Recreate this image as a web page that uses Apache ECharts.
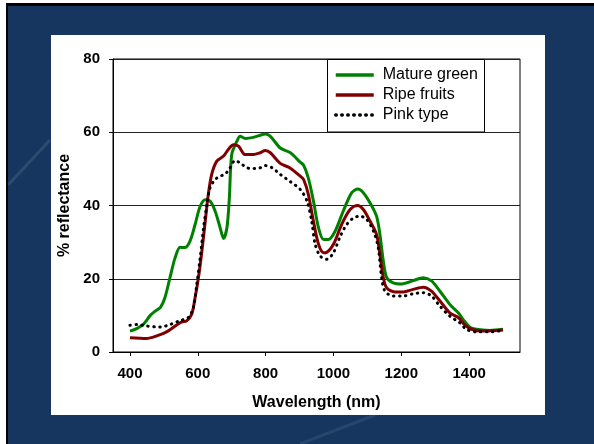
<!DOCTYPE html>
<html>
<head>
<meta charset="utf-8">
<script src="https://cdn.jsdelivr.net/npm/echarts@6/dist/echarts.min.js"></script>
<style>
html,body{margin:0;padding:0;background:#ffffff;}
#chart{width:594px;height:444px;}
</style>
</head>
<body>
<div id="chart"></div>
<script>
var xTicks = [400, 600, 800, 1000, 1200, 1400];
var yTicks = [0, 20, 40, 60, 80];

var greenX = [400,420,440,460,475,490,503,518,533,548,562,577,592,607,622,636,651,666,676,686,693,700,715,725,740,764,784,799,814,843,873,900,912,926,941,956,971,985,1005,1029,1054,1072,1088,1108,1127,1137,1147,1157,1176,1201,1235,1265,1289,1314,1343,1368,1382,1402,1421,1461,1500];
var greenY = [5.7,6.4,7.6,10,11.2,12.2,14.8,20.3,25.7,28.6,28.5,30.3,34.8,39.8,41.6,41.2,38.5,33.9,31,34,42,53.9,57.5,58.9,58.3,58.6,59.2,59.5,58.9,55.7,54.4,52,51,47.5,41.2,33.9,30.7,30.7,33,38.5,43.5,44.5,43.5,40.7,37.1,32.1,24.8,20.3,18.9,18.6,19.5,20.3,19.4,16.6,13,10.7,8.9,6.8,6.2,5.9,6.2];

var redX = [400,449,479,508,538,553,567,582,592,602,612,622,631,641,656,676,690,705,720,740,764,784,799,814,843,873,902,912,926,941,956,971,980,1000,1024,1049,1071,1088,1108,1127,1137,1147,1157,1181,1206,1235,1265,1289,1314,1343,1368,1387,1407,1441,1500];
var redY = [3.9,3.7,4.4,5.5,7.4,8.2,8.5,10.3,14.8,20.3,27.5,35.7,43,48.5,52.1,53.5,55.3,56.6,56.2,53.9,53.9,54.4,55,54.4,51.5,50.2,48,47.1,43,35.7,29.4,27.1,27.2,29.4,34.8,38.9,40,38.9,35.7,32.1,26.6,20.3,17.5,16.4,16.4,17.1,17.7,16.6,13.9,10.7,9.4,7.4,6.2,5.7,6];

var pinkX = [400,420,449,489,518,548,572,587,597,607,617,627,636,651,666,681,695,710,725,745,764,784,799,819,843,873,902,922,936,946,961,980,1000,1020,1039,1059,1078,1098,1118,1132,1142,1152,1176,1206,1235,1265,1289,1314,1343,1372,1392,1421,1461,1500];
var pinkY = [7.3,7.5,7.1,6.8,7.5,8.6,9.4,12.1,18.5,25.7,33.9,40.3,44.8,47.1,48,48.6,50.3,52.3,51.6,50.3,50.1,50.3,50.9,50.3,48.5,46.5,44.4,41.2,35.7,29.4,26.2,25.3,27.1,31.6,34.8,36.6,37.1,36.2,33,28.5,20.3,16.6,15.3,15.3,15.9,16.2,15.3,12.5,9.8,8,6.2,5.5,5.5,5.9];

var seriesNames = ['Mature green', 'Ripe fruits', 'Pink type'];

function pairs(xs, ys){ return xs.map(function(x,i){ return [x, ys[i]]; }); }

var FONT = '"Liberation Sans", Arial, sans-serif';
var chart = echarts.init(document.getElementById('chart'), null, {renderer:'canvas'});
chart.setOption({
  backgroundColor: '#ffffff',
  animation: false,
  graphic: [
    {type:'rect', z:-10, silent:true, shape:{x:6,y:3,width:588,height:441}, style:{fill:'#000000'}},
    {type:'rect', z:-9, silent:true, shape:{x:8,y:6,width:586,height:438}, style:{fill:'#16365f'}},
    {type:'line', z:-8, silent:true, shape:{x1:8,y1:185,x2:50,y2:140}, style:{stroke:'rgba(255,255,255,0.10)', lineWidth:3}},
    {type:'line', z:-8, silent:true, shape:{x1:300,y1:444,x2:375,y2:415}, style:{stroke:'rgba(255,255,255,0.08)', lineWidth:3}},
    {type:'rect', z:-7, silent:true, shape:{x:51,y:35,width:494,height:380}, style:{fill:'#ffffff'}},
    {type:'rect', z:3, silent:true, shape:{x:327.5,y:59.5,width:157,height:72.5}, style:{fill:'#ffffff', stroke:'#000000', lineWidth:1}}
  ],
  grid: {left:113, top:59, width:407, height:293, show:true, borderColor:'#000000', borderWidth:1, backgroundColor:'transparent'},
  legend: {
    left: 334, top: 66, orient:'vertical', padding:0, itemGap:2,
    itemWidth:38, itemHeight:14, z:5,
    itemStyle:{opacity:0, color:'rgba(0,0,0,0)', borderWidth:0},
    lineStyle:{width:3.5},
    textStyle:{fontFamily:FONT, fontSize:16, color:'#000', lineHeight:18, padding:[0,0,0,4]},
    data: seriesNames
  },
  xAxis: {
    type:'value', min:350, max:1550,
    name:'Wavelength (nm)', nameLocation:'middle', nameGap:43,
    nameTextStyle:{fontFamily:FONT, fontSize:16, fontWeight:'bold', color:'#000'},
    axisLine:{show:true, onZero:false, lineStyle:{color:'#000', width:1}},
    axisTick:{show:true, length:4, customValues: xTicks, lineStyle:{color:'#000'}},
    axisLabel:{customValues: xTicks, margin:14, fontFamily:FONT, fontSize:15, fontWeight:'bold', color:'#000',
      formatter:function(v){ return String(v); }},
    splitLine:{show:false}
  },
  yAxis: {
    type:'value', min:0, max:80, interval:20,
    name:'% reflectance', nameLocation:'middle', nameGap:40, nameRotate:90,
    nameTextStyle:{fontFamily:FONT, fontSize:16, fontWeight:'bold', color:'#000'},
    axisLine:{show:true, lineStyle:{color:'#000', width:1}},
    axisTick:{show:true, length:4, lineStyle:{color:'#000'}},
    axisLabel:{margin:13, fontFamily:FONT, fontSize:15, fontWeight:'bold', color:'#000'},
    splitLine:{show:true, lineStyle:{color:'#222', width:1}}
  },
  series: [
    {name:seriesNames[0], type:'line', data:pairs(greenX, greenY), smooth:0.3, symbol:'none', z:3,
     lineStyle:{color:'#008000', width:3}, itemStyle:{color:'#008000'}},
    {name:seriesNames[1], type:'line', data:pairs(redX, redY), smooth:0.3, symbol:'none', z:3,
     lineStyle:{color:'#800000', width:3}, itemStyle:{color:'#800000'}},
    {name:seriesNames[2], type:'line', data:pairs(pinkX, pinkY), smooth:0.3, symbol:'none', z:4,
     lineStyle:{color:'#000000', width:3, type:[0.5,5.5], cap:'round'}, itemStyle:{color:'#000000'}}
  ]
});
</script>
</body>
</html>
